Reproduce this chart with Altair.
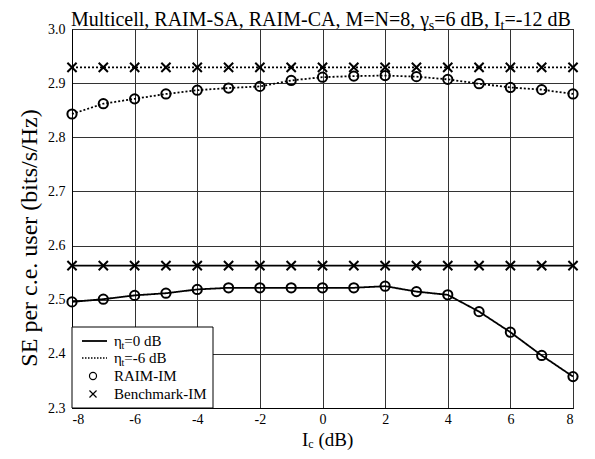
import altair as alt
import pandas as pd

# ---------------- data ----------------
ic_db = [-8, -7, -6, -5, -4, -3, -2, -1, 0, 1, 2, 3, 4, 5, 6, 7, 8]
raim_eta0 = [2.496, 2.501, 2.508, 2.512, 2.519, 2.522, 2.522, 2.522, 2.522,
             2.522, 2.525, 2.515, 2.509, 2.478, 2.440, 2.397, 2.358]
raim_eta6 = [2.843, 2.862, 2.871, 2.880, 2.887, 2.891, 2.894, 2.905, 2.911,
             2.913, 2.914, 2.912, 2.907, 2.899, 2.892, 2.888, 2.880]
bench_eta0 = [2.563, 2.563, 2.563, 2.563, 2.563, 2.563, 2.563, 2.563, 2.563,
              2.563, 2.563, 2.563, 2.563, 2.563, 2.563, 2.563, 2.563]
bench_eta6 = [2.929, 2.929, 2.929, 2.929, 2.929, 2.929, 2.929, 2.929, 2.929,
              2.929, 2.929, 2.929, 2.929, 2.929, 2.929, 2.929, 2.929]
x_ticks = [-8, -6, -4, -2, 0, 2, 4, 6, 8]
y_ticks = [2.3, 2.4, 2.5, 2.6, 2.7, 2.8, 2.9, 3.0]
legend_labels = ["=0 dB", "=-6 dB", "RAIM-IM", "Benchmark-IM"]
y_title = "SE per c.e. user (bits/s/Hz)"

FONT = "'Liberation Serif', 'Times New Roman', Times, serif"
CROSS = "M-1,-1L1,1M-1,1L1,-1"

rows = []
for name, eta, method, vals in [
    ("raim0", "0 dB", "RAIM-IM", raim_eta0),
    ("raim6", "-6 dB", "RAIM-IM", raim_eta6),
    ("bench0", "0 dB", "Benchmark-IM", bench_eta0),
    ("bench6", "-6 dB", "Benchmark-IM", bench_eta6),
]:
    for xv, yv in zip(ic_db, vals):
        rows.append({"x": xv, "y": yv, "series": name, "eta": eta, "method": method})
df = pd.DataFrame(rows)

W, H = 501, 379

xs = alt.Scale(domain=[-8, 8], nice=False, zero=False)
ys = alt.Scale(domain=[2.3, 3.0], nice=False, zero=False)

x_enc = alt.X("x:Q", scale=xs, axis=alt.Axis(values=x_ticks, title=None, labelPadding=4,
                                             labelExpr="'' + datum.value"))
y_enc = alt.Y("y:Q", scale=ys, axis=alt.Axis(values=y_ticks, format=".1f", title=None,
                                             labelPadding=7))

base = alt.Chart(df)

lines = base.mark_line(color="black", strokeWidth=1.8).encode(
    x=x_enc, y=y_enc, detail="series:N",
    strokeDash=alt.StrokeDash("eta:N",
                              scale=alt.Scale(domain=["0 dB", "-6 dB"], range=[[1, 0], [2, 2]]),
                              legend=None),
)

points = base.mark_point(color="black", filled=False, strokeWidth=2, size=85, opacity=1).encode(
    x="x:Q", y="y:Q",
    shape=alt.Shape("method:N",
                    scale=alt.Scale(domain=["RAIM-IM", "Benchmark-IM"], range=["circle", CROSS]),
                    legend=None),
)

one = alt.Chart(pd.DataFrame({"k": [0]}))

# Times/Liberation Serif advance widths (per 1000 em)
WID = {" ": 250, ",": 250, "-": 333, ".": 250, "/": 278, "(": 333, ")": 333, "=": 564,
       "A": 722, "B": 667, "C": 667, "D": 722, "E": 611, "H": 722, "I": 333, "M": 889,
       "N": 722, "R": 667, "S": 556, "a": 444, "b": 500, "c": 444, "d": 500, "e": 444,
       "h": 500, "i": 278, "k": 500, "l": 278, "m": 778, "n": 500, "p": 500, "r": 333,
       "s": 389, "t": 278, "u": 500, "z": 444, "γ": 430, "η": 500}


def tw(s, size):
    return sum(WID.get(c, 500) for c in s) * size / 1000.0


def rich(pieces, x0, y0, size, sub_size, sub_dy):
    """pieces: list of (text, is_sub). Returns layers of text marks."""
    layers = []
    x = x0
    for txt, sub in pieces:
        fs = sub_size if sub else size
        lead = len(txt) - len(txt.lstrip(" "))
        x += tw(txt[:lead], fs)
        body = txt.lstrip(" ")
        layers.append(one.mark_text(text=body, font=FONT, fontSize=fs, align="left",
                                    baseline="alphabetic", color="black").encode(
            x=alt.value(x), y=alt.value(y0 + (sub_dy if sub else 0))))
        x += tw(body, fs)
    return layers


title_layers = rich([("Multicell, RAIM-SA, RAIM-CA, M=N=8, γ", False), ("s", True),
                     ("=6 dB, I", False), ("t", True), ("=-12 dB", False)],
                    -1, -3, 20, 14, 4)

xtitle_layers = rich([("I", False), ("c", True), (" (dB)", False)], 230, 417, 19, 12, 2)

ytitle_layer = one.mark_text(text=y_title, font=FONT, fontSize=24, angle=270, align="center",
                             baseline="alphabetic", color="black").encode(
    x=alt.value(-35), y=alt.value(209))

# legend
LX0, LX1, LY0, LY1 = 0, 141, 298, 379
row_y = [312, 329, 347, 365]
leg = [one.mark_rect(fill="white", stroke="black", strokeWidth=1).encode(
    x=alt.value(LX0), x2=alt.value(LX1), y=alt.value(LY0), y2=alt.value(LY1))]
leg.append(one.mark_rule(color="black", strokeWidth=1.8).encode(
    x=alt.value(10), x2=alt.value(35), y=alt.value(row_y[0])))
leg.append(one.mark_rule(color="black", strokeWidth=1.5, strokeDash=[1.5, 1.5]).encode(
    x=alt.value(10), x2=alt.value(35), y=alt.value(row_y[1])))
leg.append(one.mark_point(shape="circle", color="black", filled=False, size=50, strokeWidth=1.2, opacity=1).encode(
    x=alt.value(21), y=alt.value(row_y[2])))
leg.append(one.mark_point(shape=CROSS, color="black", filled=False, size=50, strokeWidth=1.2, opacity=1).encode(
    x=alt.value(21), y=alt.value(row_y[3])))
for i in range(2):
    leg += rich([("η", False), ("t", True), (legend_labels[i], False)], 42, row_y[i] + 5, 15, 10, 3)
for i in range(2, 4):
    leg.append(one.mark_text(text=legend_labels[i], font=FONT, fontSize=15, align="left",
                             baseline="alphabetic", color="black").encode(
        x=alt.value(42), y=alt.value(row_y[i] + 5)))

chart = alt.layer(lines, points, *leg, *title_layers, *xtitle_layers, ytitle_layer).properties(
    width=W, height=H,
    autosize=alt.AutoSizeParams(type="none"),
    padding={"left": 64, "top": 21, "right": 14, "bottom": 43},
    background="white",
).configure_view(stroke="black", strokeWidth=1).configure_axis(
    grid=True, gridColor="#333333", gridWidth=1, gridOpacity=1,
    domain=True, domainColor="black", domainWidth=1,
    ticks=False, labelFont=FONT, labelFontSize=14, labelColor="black",
)

chart.save("out.html", embed_options={"renderer": "svg", "actions": False})
